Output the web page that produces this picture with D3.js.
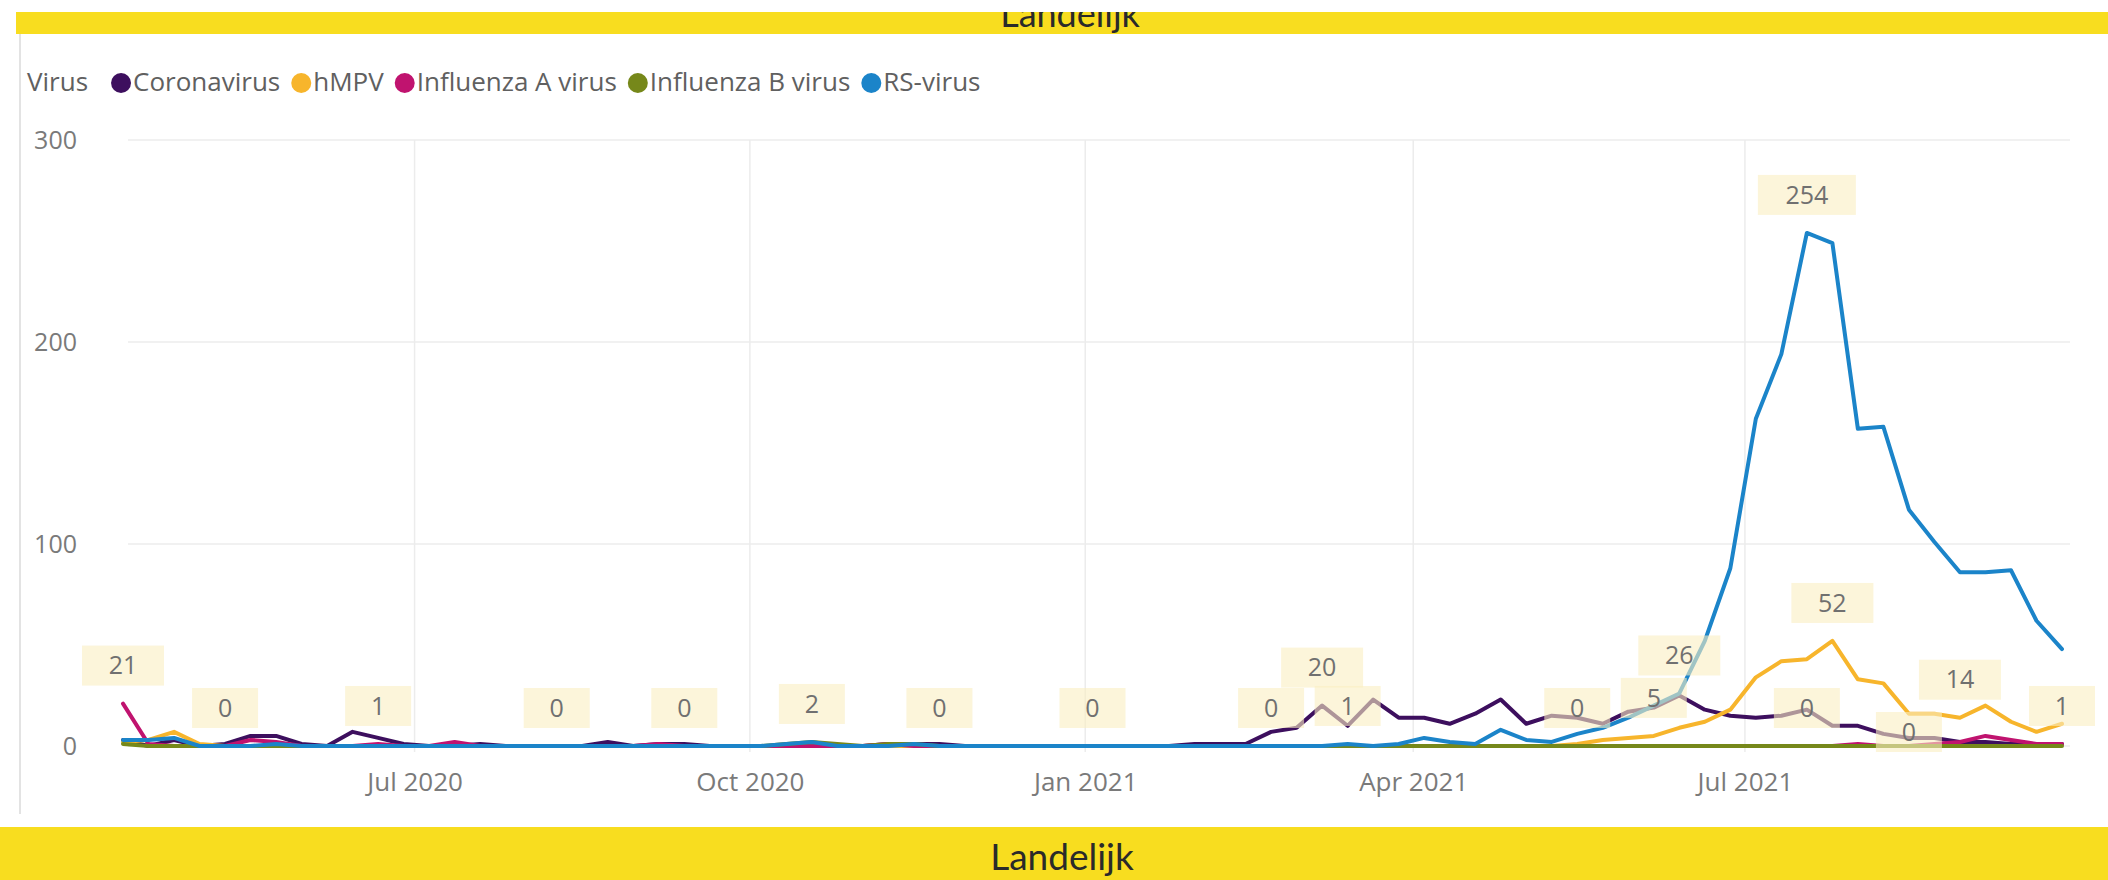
<!DOCTYPE html>
<html><head><meta charset="utf-8">
<script src="https://cdn.jsdelivr.net/npm/d3@7"></script>
<style>
html,body{margin:0;padding:0;background:#fff;}
svg{display:block;font-family:"Open Sans","Noto Sans",sans-serif;}
</style></head>
<body>
<svg id="chart" width="2108" height="880"></svg>
<script>
// ---- data ----
const seriesNames = ["Coronavirus","hMPV","Influenza A virus","Influenza B virus","RS-virus"];
const seriesColors = ["#3d0f5e","#f7b52c","#c0136f","#76881a","#1b84c9"];
const firstWeek = "2020-04-12";
const lastWeek = "2021-09-26";
const coronavirus = [3,0,3,0,1,5,5,1,0,7,4,1,0,0,1,0,0,0,0,2,0,1,1,0,0,0,0,0,0,0,1,1,1,0,0,0,0,0,0,0,0,0,1,1,1,7,9,20,10,23,14,14,11,16,23,11,15,14,11,17,19,25,18,15,14,15,18,10,10,6,4,4,2,2,1,1,1];
const hmpv = [2,3,7,1,0,0,0,0,0,0,0,0,0,0,0,0,0,0,0,0,0,0,0,0,0,0,0,1,0,0,0,0,0,0,0,0,0,0,0,0,0,0,0,0,0,0,0,0,0,0,0,0,0,0,0,0,0,1,3,4,5,9,12,18,34,42,43,52,33,31,16,16,14,20,12,7,11];
const influenzaA = [21,1,0,0,0,3,2,0,0,0,1,0,0,2,0,0,0,0,0,0,0,1,0,0,0,0,0,0,0,0,1,0,0,0,0,0,0,0,0,0,0,0,0,0,0,0,0,0,0,0,0,0,0,0,0,0,0,0,0,0,0,0,0,0,0,0,0,0,1,0,0,1,2,5,3,1,1];
const influenzaB = [1,0,0,0,0,0,0,0,0,0,0,0,0,0,0,0,0,0,0,0,0,0,0,0,0,0,1,2,1,0,1,1,0,0,0,0,0,0,0,0,0,0,0,0,0,0,0,0,0,0,0,0,0,0,0,0,0,0,0,0,0,0,0,0,0,0,0,0,0,0,0,0,0,0,0,0,0];
const rsvirus = [3,3,4,0,0,0,1,0,0,0,0,0,0,0,0,0,0,0,0,0,0,0,0,0,0,0,1,2,0,0,0,1,0,0,0,0,0,0,0,0,0,0,0,0,0,0,0,0,1,0,1,4,2,1,8,3,2,6,9,14,20,26,52,88,162,194,254,249,157,158,117,101,86,86,87,62,48];
const yTicks = [0,100,200,300];
const xTickDates = ["2020-07-01","2020-10-01","2021-01-01","2021-04-01","2021-07-01"];
// data labels: series index, week index
const labelSeries = [2,3,2,3,3,4,3,3,3,0,4,3,1,4,4,1,3,3,1,0];
const labelWeek   = [0,4,10,17,22,27,32,38,45,47,48,57,60,61,66,67,66,70,72,76];
const labelLow    = [0,0,0,0,0,0,0,0,0,0,0,0,0,0,0,0,0,1,0,0];

const allValues = [coronavirus,hmpv,influenzaA,influenzaB,rsvirus];
const parse = d3.timeParse("%Y-%m-%d");
const weeks = d3.timeWeek.range(parse(firstWeek), d3.timeDay.offset(parse(lastWeek),1));

const svg = d3.select("#chart");
const W = 2108, H = 880;

// banners
svg.append("rect").attr("x",0).attr("y",0).attr("width",W).attr("height",H).attr("fill","#fff");
svg.append("defs").append("clipPath").attr("id","topclip")
  .append("rect").attr("x",16).attr("y",12).attr("width",W-16).attr("height",22);
svg.append("rect").attr("x",16).attr("y",12).attr("width",W-16).attr("height",22).attr("fill","#f8dd1f");
svg.append("text").attr("clip-path","url(#topclip)").attr("x",1070).attr("y",27)
  .attr("text-anchor","middle").attr("font-family","Lato, 'Open Sans', sans-serif")
  .attr("font-size",36).attr("fill","#2a2a2a").text("Landelijk");
svg.append("rect").attr("x",0).attr("y",827).attr("width",W).attr("height",H-827).attr("fill","#f8dd1f");
svg.append("text").attr("x",1062).attr("y",870)
  .attr("text-anchor","middle").attr("font-family","Lato, 'Open Sans', sans-serif")
  .attr("font-size",37).attr("fill","#2a2a2a").text("Landelijk");
// left frame line
svg.append("line").attr("x1",20).attr("x2",20).attr("y1",34).attr("y2",814)
  .attr("stroke","#e3e3e3").attr("stroke-width",2);

// scales
const x = d3.scaleTime().domain([weeks[0], weeks[weeks.length-1]]).range([123, 2062]);
const y = d3.scaleLinear().domain([0,300]).range([746,140]);

// grid
const g = svg.append("g");
g.selectAll(".hg").data(yTicks).join("line")
  .attr("x1",128).attr("x2",2070).attr("y1",d=>y(d)).attr("y2",d=>y(d))
  .attr("stroke","#ececec").attr("stroke-width",1.5);
g.selectAll(".vg").data(xTickDates.map(parse)).join("line")
  .attr("x1",d=>x(d)).attr("x2",d=>x(d)).attr("y1",y(300)).attr("y2",y(0)+6)
  .attr("stroke","#ececec").attr("stroke-width",1.5);

// axes
const yAxis = d3.axisLeft(y).tickValues(yTicks).tickSize(0).tickPadding(0);
svg.append("g").attr("transform","translate(77,0)").call(yAxis)
  .call(a=>a.select(".domain").remove())
  .call(a=>a.selectAll("text").attr("font-size",25).attr("fill","#7a7a7a").attr("font-family","'Open Sans',sans-serif"));
const xAxis = d3.axisBottom(x).tickValues(xTickDates.map(parse)).tickFormat(d3.timeFormat("%b %Y")).tickSize(0).tickPadding(0);
svg.append("g").attr("transform","translate(0,773)").call(xAxis)
  .call(a=>a.select(".domain").remove())
  .call(a=>a.selectAll("text").attr("font-size",26).attr("fill","#7a7a7a").attr("font-family","'Open Sans',sans-serif"));

// lines
const line = d3.line().x((d,i)=>x(weeks[i])).y(d=>y(d));
const lg = svg.append("g");
allValues.forEach((vals,k)=>{
  lg.append("path").datum(vals).attr("d",line).attr("fill","none")
    .attr("stroke",seriesColors[k]).attr("stroke-width",4)
    .attr("stroke-linejoin","round").attr("stroke-linecap","round");
});

// data labels
const lab = svg.append("g");
labelSeries.forEach((s,j)=>{
  const w = labelWeek[j];
  const v = allValues[s][w];
  const cx = x(weeks[w]);
  const cy = y(v) - (labelLow[j] ? 14 : 38);
  const txt = String(v);
  const bw = 50 + txt.length*16, bh = 40;
  lab.append("rect").attr("x",cx-bw/2).attr("y",cy-bh/2).attr("width",bw).attr("height",bh)
    .attr("fill","#faefc2").attr("opacity",0.6);
  lab.append("text").attr("x",cx).attr("y",cy).attr("dy","0.35em").attr("text-anchor","middle")
    .attr("font-size",25).attr("fill","#707070").attr("font-family","'Open Sans',sans-serif").text(txt);
});

// legend
const leg = svg.append("g").attr("font-family","'Open Sans',sans-serif").attr("font-size",26);
let lx = 27;
const t0 = leg.append("text").attr("x",lx).attr("y",82).attr("dy","0.35em").attr("fill","#606060").text("Virus");
lx += t0.node().getComputedTextLength() + 24;
seriesNames.forEach((n,k)=>{
  leg.append("circle").attr("cx",lx+9).attr("cy",83).attr("r",10).attr("fill",seriesColors[k]);
  const t = leg.append("text").attr("x",lx+21).attr("y",82).attr("dy","0.35em").attr("fill","#606060").text(n);
  lx += 21 + t.node().getComputedTextLength() + 12;
});
</script>
</body></html>
